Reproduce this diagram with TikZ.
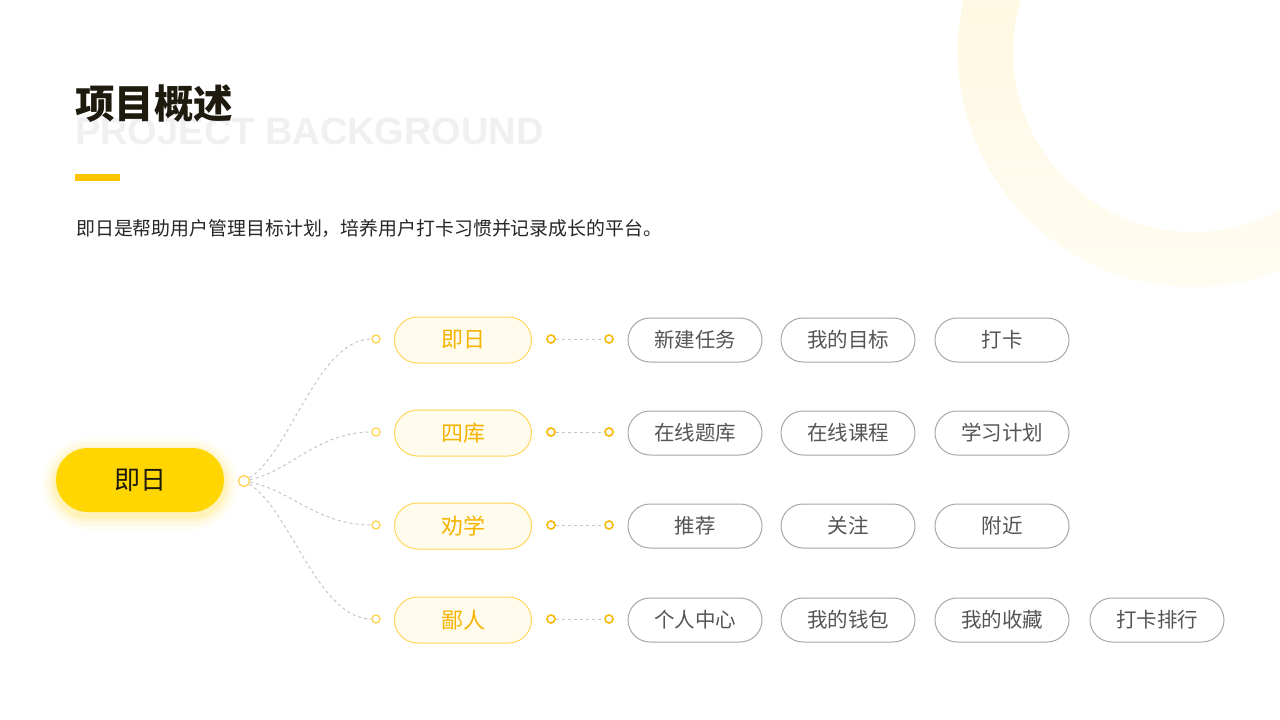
\documentclass[tikz,border=0pt]{standalone}
\usepackage{fontspec}
\setmainfont{Liberation Sans}
\newfontfamily\cjk{Noto Sans CJK SC}
\usetikzlibrary{positioning}
\definecolor{mainyellow}{RGB}{255,214,0}
\definecolor{baryellow}{RGB}{255,196,0}
\definecolor{catfill}{RGB}{255,252,238}
\definecolor{catborder}{RGB}{255,214,90}
\definecolor{cattext}{RGB}{246,180,0}
\definecolor{dotorange}{RGB}{248,184,0}
\definecolor{dashgray}{RGB}{198,198,198}
\definecolor{itemborder}{RGB}{168,168,168}
\definecolor{itemtext}{RGB}{85,85,85}
\definecolor{titlecol}{RGB}{30,26,14}
\definecolor{bgword}{RGB}{240,240,243}
\definecolor{ringA}{RGB}{255,246,215}
\definecolor{ringB}{RGB}{255,252,242}
\tikzset{
  catbox/.style={draw=catborder, line width=1pt, fill=catfill, rounded corners=23pt,
    minimum width=137pt, minimum height=46pt, inner sep=0pt,
    font=\cjk\fontsize{22}{22}\selectfont, text=cattext},
  itembox/.style={draw=itemborder, line width=1pt, fill=white, rounded corners=22pt,
    minimum width=134pt, minimum height=44pt, inner sep=0pt,
    font=\cjk\fontsize{20.5}{20.5}\selectfont, text=itemtext},
  smalldot/.style={circle, draw=dotorange, line width=1.6pt, fill=white,
    minimum size=8pt, inner sep=0pt},
  branchdot/.style={circle, draw=catborder, line width=1.4pt, fill=white,
    minimum size=8pt, inner sep=0pt},
  dashline/.style={draw=dashgray, line width=1pt, dash pattern=on 3pt off 3pt},
}
\begin{document}
\begin{tikzpicture}[x=1pt, y=-1pt]
\useasboundingbox (0,0) rectangle (1280,720);
\fill[white] (0,0) rectangle (1280,720);
% decorative ring
\begin{scope}
\clip (0,0) rectangle (1280,720);
\shade[even odd rule, shading angle=135, top color=ringA, bottom color=ringB]
  (1193,52) circle [radius=235pt] (1193,52) circle [radius=180pt];
\end{scope}
% heading
\node[anchor=west, inner sep=0pt, text=bgword, font=\bfseries\fontsize{38}{38}\selectfont] (bg) at (75,131) {PROJECT BACKGROUND};
\node[anchor=west, inner sep=0pt, text=titlecol, font=\cjk\bfseries\fontsize{39.5}{39.5}\selectfont] (title) at (75,104) {项目概述};
\fill[baryellow] (75,174) rectangle (120,181);
\node[anchor=west, inner sep=0pt, text=black!85, font=\cjk\fontsize{18.9}{18.9}\selectfont] (sub) at (76,228) {即日是帮助用户管理目标计划，培养用户打卡习惯并记录成长的平台。};
% main node glow
\foreach \g/\o in {14/0.04,10/0.06,6/0.08,3/0.11}{
  \fill[mainyellow, opacity=\o, rounded corners=32pt+\g pt] (56-\g,448-\g+4) rectangle (224+\g,512+\g+4);
}
\node[fill=mainyellow, rounded corners=32pt, minimum width=168pt, minimum height=64pt, inner sep=0pt,
  font=\cjk\fontsize{26}{26}\selectfont, text=titlecol] (main) at (140,480) {即日};
\node[circle, draw=catborder, line width=1.4pt, fill=white, minimum size=11pt, inner sep=0pt] (hub) at (244,481) {};
% category rows
\foreach \i/\y/\c/\t in {1/339/453/即日, 2/432/471/四库, 3/525/490/劝学, 4/619/509/鄙人}{
  \node[branchdot] (b\i) at (376,\y) {};
  \node[catbox] (c\i) at (463,\y+1) {\t};
  \node[smalldot] (l\i) at (551,\y) {};
  \node[smalldot] (r\i) at (609,\y) {};
  \draw[dashline] (l\i) -- (r\i);
  \draw[dashline] (hub) .. controls (290,\c) and (318,\y) .. (b\i);
}
% items
\foreach \j/\x/\t in {1/695/新建任务, 2/848/我的目标, 3/1002/打卡}{
  \node[itembox] (i1\j) at (\x,340) {\t};
}
\foreach \j/\x/\t in {1/695/在线题库, 2/848/在线课程, 3/1002/学习计划}{
  \node[itembox] (i2\j) at (\x,433) {\t};
}
\foreach \j/\x/\t in {1/695/推荐, 2/848/关注, 3/1002/附近}{
  \node[itembox] (i3\j) at (\x,526) {\t};
}
\foreach \j/\x/\t in {1/695/个人中心, 2/848/我的钱包, 3/1002/我的收藏, 4/1157/打卡排行}{
  \node[itembox] (i4\j) at (\x,620) {\t};
}
\end{tikzpicture}
\end{document}
